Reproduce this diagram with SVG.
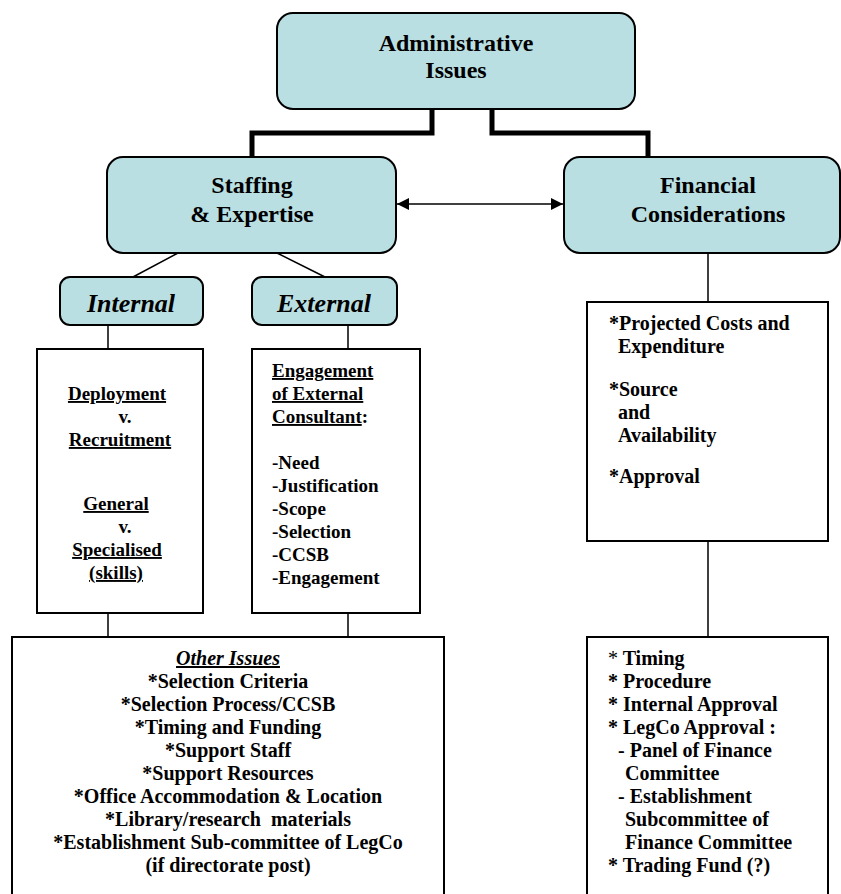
<svg xmlns="http://www.w3.org/2000/svg" width="841" height="894" viewBox="0 0 841 894" font-family="'Liberation Serif', 'Times New Roman', 'DejaVu Serif', serif">
<defs>
<style>
.rbox{fill:#BADFE2;stroke:#000;stroke-width:2}
.box{fill:#fff;stroke:#000;stroke-width:2}
.thick{fill:none;stroke:#000;stroke-width:5}
.thin{fill:none;stroke:#000;stroke-width:1.5}
text{font-family:'Liberation Serif','Times New Roman','DejaVu Serif',serif;font-weight:bold;fill:#000}
.title{font-size:24px;text-anchor:middle}
.sub{font-size:26px;font-style:italic;text-anchor:middle}
.body{font-size:19px}
.big{font-size:20px}
.mid{text-anchor:middle}
.u{text-decoration:underline}
</style>
<marker id="ah" viewBox="0 0 10 10" refX="10" refY="5" markerWidth="15" markerHeight="12" markerUnits="userSpaceOnUse" orient="auto-start-reverse">
<path d="M0,0 L10,5 L0,10 Z" fill="#000"/>
</marker>
</defs>
<rect width="841" height="894" fill="#fff"/>
<g id="connectors">
<polyline class="thick" points="432,109 432,133 252,133 252,157"/>
<polyline class="thick" points="492,109 492,133 648,133 648,157"/>
<line class="thin" x1="397" y1="204" x2="563" y2="204" stroke-width="2" marker-start="url(#ah)" marker-end="url(#ah)"/>
<line class="thin" x1="178" y1="253" x2="133" y2="277"/>
<line class="thin" x1="277" y1="253" x2="325" y2="277"/>
<line class="thin" x1="108" y1="325" x2="108" y2="349"/>
<line class="thin" x1="348" y1="325" x2="348" y2="349"/>
<line class="thin" x1="108" y1="613" x2="108" y2="637"/>
<line class="thin" x1="348" y1="613" x2="348" y2="637"/>
<line class="thin" x1="708" y1="253" x2="708" y2="302"/>
<line class="thin" x1="708" y1="541" x2="708" y2="637"/>
</g>
<g id="admin">
<rect class="rbox" x="277" y="13" width="358" height="96" rx="16"/>
<text class="title" x="456" y="51">Administrative</text>
<text class="title" x="456" y="78">Issues</text>
</g>
<g id="staffing">
<rect class="rbox" x="107" y="157" width="289" height="96" rx="16"/>
<text class="title" x="252" y="193">Staffing</text>
<text class="title" x="252" y="222">&amp; Expertise</text>
</g>
<g id="financial">
<rect class="rbox" x="564" y="157" width="276" height="96" rx="16"/>
<text class="title" x="708" y="193">Financial</text>
<text class="title" x="708" y="222">Considerations</text>
</g>
<g id="internal">
<rect class="rbox" x="60" y="277" width="143" height="48" rx="10"/>
<text class="sub" x="131" y="312">Internal</text>
</g>
<g id="external">
<rect class="rbox" x="252" y="277" width="145" height="48" rx="10"/>
<text class="sub" x="324" y="312">External</text>
</g>
<g id="internal-detail">
<rect class="box" x="37" y="349" width="166" height="264"/>
<text class="body mid u" x="117" y="400">Deployment</text>
<text class="body mid" x="125" y="423">v.</text>
<text class="body mid u" x="120" y="446">Recruitment</text>
<text class="body mid u" x="116" y="510">General</text>
<text class="body mid" x="125" y="533">v.</text>
<text class="body mid u" x="117" y="556">Specialised</text>
<text class="body mid u" x="116" y="579">(skills)</text>
</g>
<g id="external-detail">
<rect class="box" x="252" y="349" width="168" height="264"/>
<text class="body u" x="272" y="377">Engagement</text>
<text class="body u" x="272" y="400">of External</text>
<text class="body" x="272" y="423"><tspan class="u">Consultant</tspan>:</text>
<text class="body" x="272" y="469">-Need</text>
<text class="body" x="272" y="492">-Justification</text>
<text class="body" x="272" y="515">-Scope</text>
<text class="body" x="272" y="538">-Selection</text>
<text class="body" x="272" y="561">-CCSB</text>
<text class="body" x="272" y="584">-Engagement</text>
</g>
<g id="financial-detail">
<rect class="box" x="587" y="302" width="241" height="239"/>
<text class="big" x="609" y="330">*Projected Costs and</text>
<text class="big" x="618" y="353">Expenditure</text>
<text class="big" x="609" y="396">*Source</text>
<text class="big" x="618" y="419">and</text>
<text class="big" x="618" y="442">Availability</text>
<text class="big" x="609" y="483">*Approval</text>
</g>
<g id="other-issues">
<rect class="box" x="12" y="637" width="432" height="300"/>
<text class="big mid u" x="228" y="665" font-style="italic">Other Issues</text>
<text class="big mid" x="228" y="688">*Selection Criteria</text>
<text class="big mid" x="228" y="711">*Selection Process/CCSB</text>
<text class="big mid" x="228" y="734">*Timing and Funding</text>
<text class="big mid" x="228" y="757">*Support Staff</text>
<text class="big mid" x="228" y="780">*Support Resources</text>
<text class="big mid" x="228" y="803">*Office Accommodation &amp; Location</text>
<text class="big mid" x="228" y="826" xml:space="preserve">*Library/research  materials</text>
<text class="big mid" x="228" y="849">*Establishment Sub-committee of LegCo</text>
<text class="big mid" x="228" y="872">(if directorate post)</text>
</g>
<g id="financial-procedure">
<rect class="box" x="587" y="637" width="241" height="300"/>
<text class="big" x="608" y="665"><tspan font-weight="normal">*</tspan> Timing</text>
<text class="big" x="608" y="688">* Procedure</text>
<text class="big" x="608" y="711">* Internal Approval</text>
<text class="big" x="608" y="734">* LegCo Approval :</text>
<text class="big" x="618" y="757">- Panel of Finance</text>
<text class="big" x="625" y="780">Committee</text>
<text class="big" x="618" y="803">- Establishment</text>
<text class="big" x="625" y="826">Subcommittee of</text>
<text class="big" x="625" y="849">Finance Committee</text>
<text class="big" x="608" y="872">* Trading Fund (?)</text>
</g>
</svg>
